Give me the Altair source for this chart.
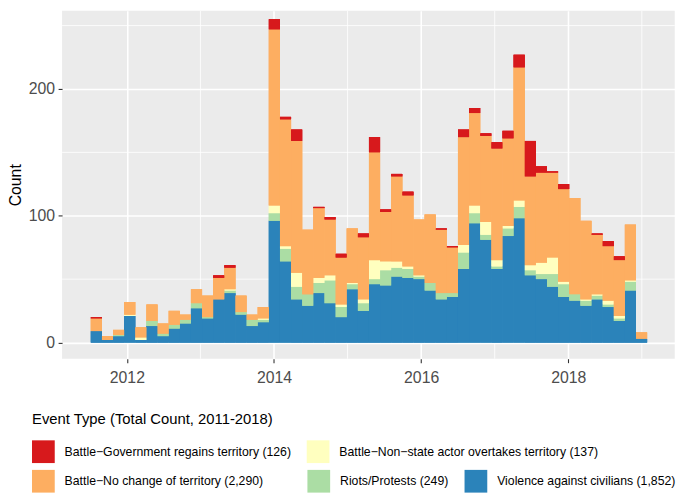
import altair as alt
import pandas as pd

# histogram bins (decimal years)
BIN_START = 2011.503
BIN_WIDTH = 0.15124

GOV = "Battle−Government regains territory (126)"
NON = "Battle−Non−state actor overtakes territory (137)"
NOCH = "Battle−No change of territory (2,290)"
RIOT = "Riots/Protests (249)"
VIOL = "Violence against civilians (1,852)"

# stacking order: bottom -> top
STACK_ORDER = [VIOL, RIOT, NON, NOCH, GOV]

violence = [9, 2, 5, 21, 2, 13, 5, 11, 15, 27, 19, 34, 39, 22, 13, 16,
            96, 64, 34, 29, 39, 31, 20, 42, 25, 46, 45, 52, 51, 50, 41, 34, 36,
            58, 94, 81, 58, 84, 98, 53, 50, 44, 36, 33, 29, 34, 28, 17, 41, 3]
riots = [0, 0, 1, 0, 0, 4, 2, 3, 3, 4, 1, 0, 2, 2, 5, 2,
         6, 10, 10, 9, 8, 18, 8, 4, 6, 4, 12, 7, 7, 2, 6, 5, 3,
         13, 8, 4, 2, 6, 9, 4, 4, 10, 10, 5, 4, 3, 2, 2, 7, 0]
nonstate = [0, 0, 0, 1, 2, 0, 0, 0, 0, 0, 0, 0, 1, 0, 0, 1,
            6, 2, 11, 0, 4, 4, 2, 1, 3, 15, 7, 5, 2, 1, 0, 0, 0,
            6, 6, 10, 5, 2, 5, 4, 9, 13, 2, 0, 1, 1, 3, 2, 1, 0]
nochange = [10, 3, 4, 10, 8, 13, 8, 11, 4, 11, 17, 17, 17, 13, 4, 9,
            139, 100, 104, 51, 55, 44, 37, 43, 49, 85, 39, 67, 56, 44, 54, 50, 36,
            85, 73, 68, 88, 69, 105, 70, 71, 67, 73, 76, 62, 47, 43, 44, 44, 5]
government = [1, 0, 0, 0, 0, 0, 0, 0, 0, 0, 0, 2, 2, 0, 0, 0,
              8, 2, 9, 0, 1, 2, 3, 0, 3, 12, 2, 2, 3, 0, 0, 1, 1,
              6, 4, 2, 5, 6, 10, 28, 5, 1, 4, 0, 0, 1, 4, 3, 0, 0]

SERIES = [violence, riots, nonstate, nochange, government]

# colour scale (RColorBrewer Spectral, 5 classes)
COLOR_OF = {GOV: "#D7191C", NON: "#FFFFBF", NOCH: "#FDAE61", RIOT: "#ABDDA4", VIOL: "#2B83BA"}

# legend pieces (laid out like ggplot's 2-row legend)
LEGEND_A = [GOV, NON]      # row 1
LEGEND_B = [NOCH]          # row 2, column 1
LEGEND_C = [RIOT, VIOL]    # row 2, columns 2-3
DOMAIN_A = [GOV, NON, NOCH, RIOT, VIOL]
DOMAIN_B = [NOCH, RIOT, VIOL, GOV, NON]
DOMAIN_C = [RIOT, VIOL, GOV, NON, NOCH]

X_TICKS = [2012, 2014, 2016, 2018]
X_MINOR = [2013, 2015, 2017, 2019]
Y_TICKS = [0, 100, 200]
Y_MINOR = [50, 150, 250]
X_DOMAIN = [2011.119, 2019.447]
Y_DOMAIN = [-12.75, 261.6]

rows = []
for k, (cat, vals) in enumerate(zip(STACK_ORDER, SERIES)):
    for i, v in enumerate(vals):
        rows.append({"x0": BIN_START + i * BIN_WIDTH,
                     "x1": BIN_START + (i + 1) * BIN_WIDTH,
                     "event": cat, "count": v, "stack": k})
df = pd.DataFrame(rows)

FONT = "Liberation Sans"

xscale = alt.Scale(domain=X_DOMAIN, nice=False, zero=False)
yscale = alt.Scale(domain=Y_DOMAIN, nice=False, zero=False)

xaxis = alt.Axis(values=X_TICKS, format="d", grid=True, gridColor="white", gridWidth=1.6,
                 domain=False, tickSize=4, tickColor="#333333", tickWidth=1.1,
                 labelFontSize=16, labelColor="#4D4D4D", labelFont=FONT, labelPadding=7.3,
                 labelFlush=False, labelOverlap=False, title=None)
yaxis = alt.Axis(values=Y_TICKS, grid=True, gridColor="white", gridWidth=1.6,
                 domain=False, tickSize=4, tickColor="#333333", tickWidth=1.1,
                 labelFontSize=16, labelColor="#4D4D4D", labelFont=FONT, labelPadding=3.5,
                 title="Count", titleFontSize=16, titleFont=FONT, titleFontWeight="normal",
                 titleColor="black", titlePadding=4.5, labelFlush=False, labelOverlap=False)

legend_common = dict(
    orient="none", direction="horizontal",
    symbolType="square", symbolSize=529, symbolStrokeWidth=0, symbolOpacity=1,
    labelFont=FONT, labelFontSize=12.4, labelColor="black", labelLimit=500, labelOffset=10,
    titleFont=FONT, titleFontSize=15, titleFontWeight="normal", titleColor="black",
    titleLimit=600, columnPadding=16, padding=0,
)

legend_a = alt.Legend(title="Event Type (Total Count, 2011-2018)", values=LEGEND_A,
                      legendX=-30.4, legendY=405.7, titlePadding=13.9, **legend_common)
legend_b = alt.Legend(title=None, values=LEGEND_B, legendX=-30.4, legendY=464.5, **legend_common)
legend_c = alt.Legend(title=None, values=LEGEND_C, legendX=248.3, legendY=464.5, **legend_common)

minor_x = alt.Chart(pd.DataFrame({"x0": X_MINOR})).mark_rule(color="white", strokeWidth=0.8).encode(
    x=alt.X("x0:Q", scale=xscale, axis=xaxis)
)
minor_y = alt.Chart(pd.DataFrame({"count": Y_MINOR})).mark_rule(color="white", strokeWidth=0.8).encode(
    y=alt.Y("count:Q", scale=yscale, axis=yaxis)
)

base = alt.Chart(df).mark_bar(binSpacing=0, strokeWidth=0).encode(
    x=alt.X("x0:Q", bin="binned", scale=xscale, axis=xaxis),
    x2="x1:Q",
    y=alt.Y("count:Q", stack="zero", scale=yscale, axis=yaxis),
    order=alt.Order("stack:Q", sort="ascending"),
)

bars_a = base.encode(color=alt.Color(
    "event:N", scale=alt.Scale(domain=DOMAIN_A, range=[COLOR_OF[c] for c in DOMAIN_A]), legend=legend_a))
bars_b = base.encode(fill=alt.Fill(
    "event:N", scale=alt.Scale(domain=DOMAIN_B, range=[COLOR_OF[c] for c in DOMAIN_B]), legend=legend_b))
bars_c = base.encode(color=alt.Color(
    "event:N", scale=alt.Scale(domain=DOMAIN_C, range=[COLOR_OF[c] for c in DOMAIN_C]), legend=legend_c))

chart = alt.layer(minor_x, minor_y, bars_a, bars_b, bars_c).resolve_scale(
    color="independent"
).properties(
    width=620, height=352,
    autosize=alt.AutoSizeParams(type="none"),
    padding={"left": 54.7, "top": 0, "right": 2.3, "bottom": 134},
).configure_view(fill="#EBEBEB", strokeWidth=0)

chart.save("out.html", embed_options={"renderer": "svg", "actions": False})
